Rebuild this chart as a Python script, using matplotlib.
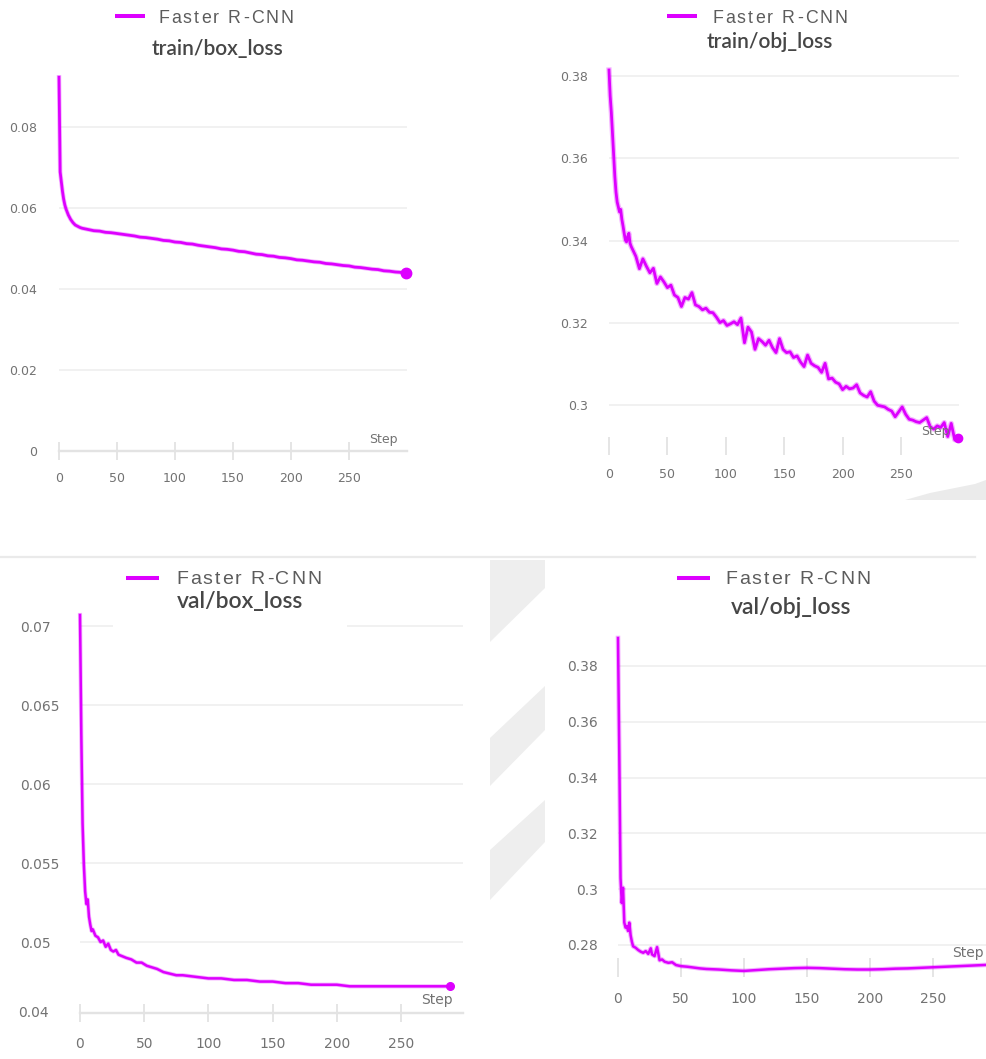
import matplotlib
matplotlib.use("Agg")
import matplotlib.pyplot as plt
from matplotlib import transforms as mtransforms
from matplotlib.patches import Polygon, Rectangle
from matplotlib.lines import Line2D
from matplotlib.font_manager import FontProperties, findfont, get_font

W, H = 986, 1059
DPI = 100

# ---------------- data ----------------
run_name = "Faster R-CNN"
titles = ["train/box_loss", "train/obj_loss", "val/box_loss", "val/obj_loss"]
x_ticks = [0, 50, 100, 150, 200, 250]

train_box_steps = [0, 1, 2, 3, 4, 5, 6, 8, 10, 12, 14, 16, 18, 20,
                   25, 30, 35, 40, 45, 50, 55, 60, 65, 70, 75, 80, 85, 90, 95,
                   100, 105, 110, 115, 120, 125, 130, 135, 140, 145, 150, 155,
                   160, 165, 170, 175, 180, 185, 190, 195, 200, 205, 210, 215,
                   220, 225, 230, 235, 240, 245, 250, 255, 260, 265, 270, 275,
                   280, 285, 290, 295, 299]
train_box_loss = [0.0923, 0.0689, 0.0665, 0.0641, 0.0622, 0.0608, 0.0598, 0.0583,
                  0.0572, 0.0564, 0.0558, 0.0555, 0.0552, 0.0550,
                  0.0547, 0.0544, 0.0543, 0.0540, 0.0539, 0.0537, 0.0535, 0.0533,
                  0.0531, 0.0528, 0.0527, 0.0525, 0.0523, 0.0520, 0.0519,
                  0.0516, 0.0515, 0.0512, 0.0511, 0.0508, 0.0506, 0.0504, 0.0502,
                  0.0499, 0.0498, 0.0496, 0.0493, 0.0492, 0.0489, 0.0486, 0.0485,
                  0.0482, 0.0481, 0.0478, 0.0477, 0.0475, 0.0472, 0.0471, 0.0469,
                  0.0467, 0.0466, 0.0463, 0.0462, 0.0460, 0.0458, 0.0457, 0.0454,
                  0.0453, 0.0451, 0.0449, 0.0448, 0.0445, 0.0444, 0.0442, 0.0441,
                  0.0439]

train_obj_steps = [0, 1, 2, 3, 4, 5, 6, 7, 8, 9, 10, 11, 12, 13, 14, 15, 16, 17,
                   18, 19, 20, 23, 26, 29, 32, 35, 38, 41, 44, 47, 50, 53, 56, 59,
                   62, 65, 68, 71, 74, 77, 80, 83, 86, 89, 92, 95, 98, 101, 104,
                   107, 110, 113, 116, 119, 122, 125, 128, 131, 134, 137, 140, 143,
                   146, 149, 152, 155, 158, 161, 164, 167, 170, 173, 176, 179, 182,
                   185, 188, 191, 194, 197, 200, 203, 206, 209, 212, 215, 218, 221,
                   224, 227, 230, 233, 236, 239, 242, 245, 248, 251, 254, 257, 260,
                   263, 266, 269, 272, 275, 278, 281, 284, 287, 290, 293, 296, 299]
train_obj_loss = [0.3815, 0.3752, 0.3712, 0.3660, 0.3608, 0.3556, 0.3518, 0.3494,
                  0.3482, 0.3470, 0.3476, 0.3452, 0.3436, 0.3418, 0.3402, 0.3397,
                  0.3410, 0.3418, 0.3394, 0.3386, 0.3380, 0.3362, 0.3332, 0.3356,
                  0.3338, 0.3322, 0.3333, 0.3296, 0.3312, 0.3300, 0.3286, 0.3292,
                  0.3268, 0.3262, 0.3240, 0.3262, 0.3258, 0.3274, 0.3244, 0.3240,
                  0.3232, 0.3236, 0.3226, 0.3225, 0.3214, 0.3201, 0.3206, 0.3194,
                  0.3198, 0.3203, 0.3196, 0.3212, 0.3152, 0.3190, 0.3178, 0.3136,
                  0.3162, 0.3155, 0.3146, 0.3158, 0.3140, 0.3128, 0.3162, 0.3136,
                  0.3128, 0.3130, 0.3116, 0.3120, 0.3105, 0.3094, 0.3122, 0.3102,
                  0.3096, 0.3092, 0.3080, 0.3102, 0.3064, 0.3066, 0.3056, 0.3052,
                  0.3038, 0.3046, 0.3040, 0.3042, 0.3050, 0.3030, 0.3024, 0.3020,
                  0.3033, 0.3010, 0.3000, 0.2998, 0.2996, 0.2990, 0.2986, 0.2972,
                  0.2984, 0.2996, 0.2978, 0.2966, 0.2964, 0.2960, 0.2958, 0.2964,
                  0.2970, 0.2948, 0.2942, 0.2950, 0.2946, 0.2958, 0.2924, 0.2956,
                  0.2916, 0.2920]

val_box_steps = [0, 1, 2, 3, 4, 5, 6, 7, 8, 9, 10, 12, 14, 16, 18, 20, 22, 24, 26,
                 28, 30, 33, 36, 40, 44, 48, 52, 56, 60, 65, 70, 75, 80, 90, 100,
                 110, 120, 130, 140, 150, 160, 170, 180, 190, 200, 210, 220, 230,
                 240, 250, 260, 270, 280, 288]
val_box_loss = [0.0707, 0.0632, 0.0575, 0.0549, 0.0532, 0.0524, 0.0527, 0.0516,
                0.0511, 0.0507, 0.0508, 0.0504, 0.0503, 0.0500, 0.0501, 0.0497,
                0.0499, 0.0495, 0.0494, 0.0495, 0.0492, 0.0491, 0.0490, 0.0489,
                0.0487, 0.0487, 0.0485, 0.0484, 0.0483, 0.0481, 0.0480, 0.0479,
                0.0479, 0.0478, 0.0477, 0.0477, 0.0476, 0.0476, 0.0475, 0.0475,
                0.0474, 0.0474, 0.0473, 0.0473, 0.0473, 0.0472, 0.0472, 0.0472,
                0.0472, 0.0472, 0.0472, 0.0472, 0.0472, 0.0472]

val_obj_steps = [0, 1, 2, 3, 4, 5, 6, 7, 8, 9, 10, 11, 12, 14, 16, 18, 20, 22, 24,
                 26, 27, 29, 31, 33, 35, 37, 40, 43, 46, 50, 55, 60, 65, 70, 80,
                 90, 100, 110, 120, 130, 140, 150, 160, 170, 180, 190, 200, 210,
                 220, 230, 240, 250, 260, 270, 280, 290, 299]
val_obj_loss = [0.3900, 0.3490, 0.3040, 0.2950, 0.3005, 0.2880, 0.2862, 0.2868,
                0.2850, 0.2880, 0.2835, 0.2812, 0.2795, 0.2790, 0.2782, 0.2776,
                0.2772, 0.2778, 0.2768, 0.2788, 0.2766, 0.2760, 0.2792, 0.2745,
                0.2748, 0.2740, 0.2736, 0.2738, 0.2728, 0.2724, 0.2722, 0.2719,
                0.2716, 0.2714, 0.2712, 0.2709, 0.2707, 0.2710, 0.2713, 0.2715,
                0.2717, 0.2718, 0.2717, 0.2715, 0.2713, 0.2712, 0.2712, 0.2713,
                0.2715, 0.2716, 0.2718, 0.2720, 0.2722, 0.2724, 0.2726, 0.2728,
                0.2730]

train_box_yticks = [0, 0.02, 0.04, 0.06, 0.08]
train_box_ylabels = ["0", "0.02", "0.04", "0.06", "0.08"]
train_obj_yticks = [0.30, 0.32, 0.34, 0.36, 0.38]
train_obj_ylabels = ["0.3", "0.32", "0.34", "0.36", "0.38"]
val_box_yticks = [0.05, 0.055, 0.06, 0.065, 0.07]
val_box_ylabels = ["0.05", "0.055", "0.06", "0.065", "0.07"]
val_obj_yticks = [0.28, 0.30, 0.32, 0.34, 0.36, 0.38]
val_obj_ylabels = ["0.28", "0.3", "0.32", "0.34", "0.36", "0.38"]

# ---------------- style ----------------
plt.rcParams["font.family"] = ["DejaVu Sans"]
LINE = "#dd00ff"
GRID = "#efefef"
AXIS = "#e3e3e3"
TICK_TXT = "#727272"
LEGEND_TXT = "#5c5c5c"
TITLE_TXT = "#464646"

fig = plt.figure(figsize=(W / DPI, H / DPI), dpi=DPI)
fig.patch.set_facecolor("white")
# pixel coordinates measured from the top-left corner
PX = mtransforms.Affine2D().scale(1, -1).translate(0, H)


def px_axes(left, right, top, bottom, xlim, ylim):
    ax = fig.add_axes([left / W, 1 - bottom / H, (right - left) / W, (bottom - top) / H])
    ax.set_xlim(*xlim)
    ax.set_ylim(*ylim)
    ax.patch.set_visible(False)
    for sp in ax.spines.values():
        sp.set_visible(False)
    return ax


def style(ax, yticks, ylabels, ypad, ysize, xsize, tick_len, xpad, axis_line,
          yha="right"):
    ax.set_yticks(yticks)
    ax.set_yticklabels(ylabels)
    ax.yaxis.grid(True, color=GRID, lw=1.2)
    ax.tick_params(axis="y", length=0, pad=ypad * 0.72, labelsize=ysize,
                   labelcolor=TICK_TXT)
    for lbl in ax.get_yticklabels():
        lbl.set_horizontalalignment(yha)
    ax.set_xticks(x_ticks)
    ax.set_xticklabels([str(t) for t in x_ticks])
    ax.tick_params(axis="x", direction="inout", length=tick_len * 0.72, width=1.3,
                   color=AXIS, pad=xpad * 0.72, labelsize=xsize, labelcolor=TICK_TXT)
    if axis_line:
        ax.spines["bottom"].set_visible(True)
        ax.spines["bottom"].set_color(AXIS)
        ax.spines["bottom"].set_linewidth(1.7)
    ax.set_axisbelow(True)


def spaced_text(x, y, s, size, color, track, family="Liberation Sans"):
    fp = FontProperties(family=family, size=size)
    font = get_font(findfont(fp))
    font.set_size(size, DPI)
    cx = x
    for ch in s:
        if ch != " ":
            fig.text(cx, y, ch, transform=PX, fontproperties=fp, color=color,
                     ha="left", va="baseline", zorder=5)
        g = font.load_char(ord(ch))
        cx += g.linearHoriAdvance / 65536 + track


def header(lx0, lx1, ly, tx, tbase, lsize, track, title, cx, cbase, tsize):
    fig.add_artist(Line2D([lx0, lx1], [ly, ly], transform=PX, color=LINE,
                          lw=2.9, solid_capstyle="butt", zorder=5))
    spaced_text(tx, tbase, run_name, lsize, LEGEND_TXT, track)
    fig.text(cx, cbase, title, transform=PX, ha="center", va="baseline",
             fontsize=tsize, family=["Lato", "DejaVu Sans"], weight="semibold",
             color=TITLE_TXT, zorder=5)


def curve(ax, steps, values, lw, halo):
    # a soft wider pass under the main stroke gives the fuzzy edge of the run line
    ax.plot(steps, values, color=LINE, lw=lw + halo, alpha=0.3, clip_on=False,
            solid_joinstyle="round", zorder=3)
    ax.plot(steps, values, color=LINE, lw=lw, clip_on=False,
            solid_joinstyle="round", zorder=3)


# ---------------- background pieces ----------------
fig.add_artist(Line2D([0, 975], [557, 557], transform=PX, color="#eaeaea", lw=1.6,
                      zorder=-1))
for pts in ([(490, 560), (545, 560), (545, 588), (490, 642)],
            [(490, 738), (545, 686), (545, 730), (490, 786)],
            [(490, 850), (545, 800), (545, 842), (490, 900)]):
    fig.add_artist(Polygon(pts, closed=True, transform=PX, facecolor="#eeeeee",
                           edgecolor="none", zorder=-1))
fig.add_artist(Polygon([(905, 500), (930, 493), (955, 488), (975, 484), (986, 480),
                        (986, 500)], closed=True, transform=PX, facecolor="#ebebeb",
                       edgecolor="none", zorder=-1))

# ---------------- train/box_loss ----------------
ax1 = px_axes(59, 407, 77, 451, (0, 300), (0, 0.09235))
style(ax1, train_box_yticks, train_box_ylabels, 22, 9, 9, 18, 12, True)
fig.text(398, 439, "Step", transform=PX, ha="right", va="center", fontsize=9,
         color=TICK_TXT)
curve(ax1, train_box_steps, train_box_loss, 2.0, 1.2)
ax1.plot(train_box_steps[-1], train_box_loss[-1], "o", color=LINE, ms=7.5,
         clip_on=False, zorder=4)
header(115, 145, 16, 158, 22.7, 12.8, 2.1, titles[0], 218, 55, 15)

# ---------------- train/obj_loss ----------------
ax2 = px_axes(609, 959.4, 70, 446, (0, 300), (0.2901, 0.3815))
style(ax2, train_obj_yticks, train_obj_ylabels, 21, 9, 9, 18, 13, False)
fig.text(950, 432, "Step", transform=PX, ha="right", va="center", fontsize=9,
         color=TICK_TXT)
curve(ax2, train_obj_steps, train_obj_loss, 2.0, 1.8)
ax2.plot(train_obj_steps[-1], train_obj_loss[-1], "o", color=LINE, ms=6,
         clip_on=False, zorder=4)
header(667, 697, 16, 712, 22.7, 12.8, 2.1, titles[1], 770, 47.5, 15)

# ---------------- val/box_loss ----------------
ax3 = px_axes(80, 463, 615, 1013, (0, 298.3), (0.04551, 0.0707))
style(ax3, val_box_yticks, val_box_ylabels, 60, 10, 10, 18, 15, True, yha="left")
fig.text(18, 1013, "0.04", transform=PX, ha="left", va="center", fontsize=10,
         color=TICK_TXT)
fig.text(453, 1000, "Step", transform=PX, ha="right", va="center", fontsize=10,
         color=TICK_TXT)
fig.add_artist(Rectangle((113, 562), 234, 70, transform=PX, facecolor="white",
                         edgecolor="none", zorder=2))
curve(ax3, val_box_steps, val_box_loss, 1.8, 1.2)
ax3.plot(val_box_steps[-1], val_box_loss[-1], "o", color=LINE, ms=5.5,
         clip_on=False, zorder=4)
header(126, 159, 578, 176, 584.3, 14, 2.0, titles[2], 240, 608, 16.5)

# ---------------- val/obj_loss ----------------
ax4 = px_axes(618, 996, 638, 967, (0, 300), (0.2721, 0.3900))
style(ax4, val_obj_yticks, val_obj_ylabels, 20, 10, 10, 19, 15.5, False)
fig.text(952, 953, "Step", transform=PX, ha="left", va="center", fontsize=10,
         color=TICK_TXT)
curve(ax4, val_obj_steps, val_obj_loss, 1.8, 1.5)
header(677, 710, 578, 725, 584.3, 14, 2.0, titles[3], 791, 614, 16.5)

fig.savefig("out.png", dpi=DPI, facecolor="white")
